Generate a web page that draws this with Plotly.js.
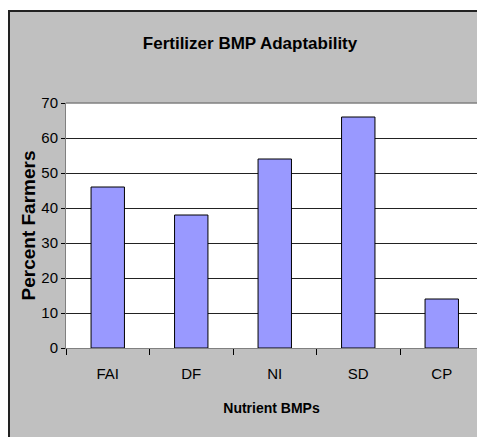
<!DOCTYPE html>
<html>
<head>
<meta charset="utf-8">
<script src="https://cdn.plot.ly/plotly-3.0.1.min.js"></script>
<style>
  html, body { margin: 0; padding: 0; background: #ffffff; overflow: hidden; width: 477px; height: 437px; }
  #chart { position: absolute; left: 8px; top: 10px; border-left: 2px solid #222; border-top: 2px solid #222; width: 467px; height: 425px; }
</style>
</head>
<body>
<div id="chart"></div>
<script>
const categories = ["FAI", "DF", "NI", "SD", "CP"];
const percentFarmers = [46, 38, 54, 66, 14];
const yTicks = [0, 10, 20, 30, 40, 50, 60, 70];

const narrow = '"Liberation Sans Narrow", "Arial Narrow", "Liberation Sans", Arial, sans-serif';
const wide = '"Liberation Sans", Arial, sans-serif';

const trace = {
  type: 'bar',
  x: categories,
  y: percentFarmers,
  width: 0.4,
  marker: { color: '#9999FF', line: { color: '#000000', width: 1 } },
  hoverinfo: 'x+y'
};

const layout = {
  width: 467,
  height: 425,
  paper_bgcolor: '#C0C0C0',
  plot_bgcolor: '#FFFFFF',
  margin: { l: 56, r: 0, t: 91, b: 89 },
  showlegend: false,
  bargap: 0.6,
  title: {
    text: '<b>Fertilizer BMP Adaptability</b>',
    font: { family: narrow, size: 17, color: '#000' },
    xref: 'container', yref: 'container',
    x: 0.514, y: 0.926, xanchor: 'center', yanchor: 'middle'
  },
  xaxis: {
    type: 'category',
    range: [-0.5, 4.422],
    tickson: 'boundaries',
    ticks: 'outside', ticklen: 6, tickcolor: '#000', tickwidth: 1,
    showline: true, linecolor: '#808080', linewidth: 1,
    mirror: false,
    showgrid: false,
    tickfont: { family: narrow, size: 15, color: '#000' },
    ticklabelstandoff: 12,
    title: { text: '<b>Nutrient BMPs</b>', font: { family: narrow, size: 14, color: '#000' }, standoff: 22 }
  },
  yaxis: {
    range: [0, 70],
    tickvals: yTicks,
    ticks: 'outside', ticklen: 4, tickcolor: '#000', tickwidth: 1,
    showline: true, linecolor: '#808080', linewidth: 1,
    showgrid: true, gridcolor: '#222', gridwidth: 1,
    zeroline: false,
    tickfont: { family: narrow, size: 15, color: '#000' },
    title: { text: '<b>Percent Farmers</b>', font: { family: wide, size: 19, color: '#000' }, standoff: 0 }
  },
  shapes: [
    { type: 'line', xref: 'paper', yref: 'paper', x0: 0, x1: 1, y0: 1, y1: 1, line: { color: '#808080', width: 1.5 } }
  ]
};

Plotly.newPlot('chart', [trace], layout, { displayModeBar: false, staticPlot: true });
</script>
</body>
</html>
